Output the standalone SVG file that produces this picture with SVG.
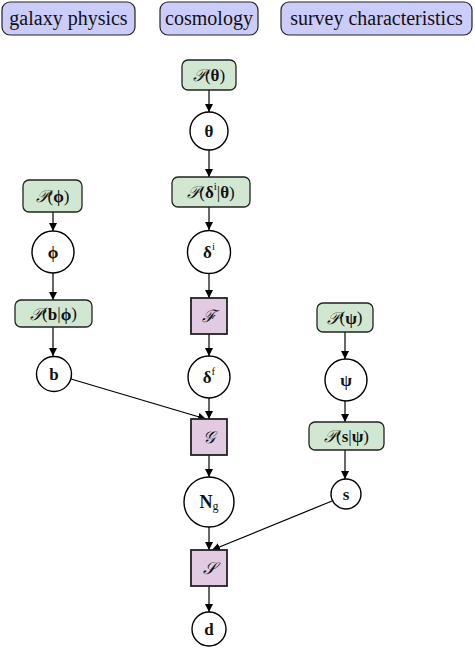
<svg xmlns="http://www.w3.org/2000/svg" width="475" height="648" viewBox="0 0 475 648">
<defs>
<marker id="ah" viewBox="0 0 10 10" refX="10" refY="5" markerWidth="8" markerHeight="8" markerUnits="userSpaceOnUse" orient="auto">
<path d="M0,0 L10,5 L0,10 Z" fill="#000"/>
</marker>
<style>
.hdr{fill:#ccccfa;stroke:#222;stroke-width:1.2}
.pri{fill:#d2e7d2;stroke:#222;stroke-width:1.3}
.var{fill:#fff;stroke:#000;stroke-width:1.4}
.fn{fill:#e2cbe2;stroke:#222;stroke-width:1.8}
text{font-family:"Liberation Serif","DejaVu Serif",serif;fill:#111;text-anchor:middle;dominant-baseline:central}
.t{font-size:20px}
.m{font-size:17px}
.b{font-weight:bold}
.sc{font-family:"DejaVu Serif","Liberation Serif",serif;font-style:italic}
.e{stroke:#000;stroke-width:1.2;fill:none;marker-end:url(#ah)}
</style>
</defs>
<g id="hdr-galaxy"><rect class="hdr" x="2" y="2" width="133" height="33" rx="8"/><text class="t" x="68.5" y="18">galaxy physics</text></g>
<g id="hdr-cosmo"><rect class="hdr" x="160" y="2" width="98" height="33" rx="8"/><text class="t" x="209" y="18">cosmology</text></g>
<g id="hdr-survey"><rect class="hdr" x="281" y="2" width="191" height="33" rx="8"/><text class="t" x="376.5" y="18">survey characteristics</text></g>

<g id="connectors">
<line class="e" x1="209" y1="90" x2="209" y2="112"/>
<line class="e" x1="209" y1="150" x2="209" y2="177"/>
<line class="e" x1="209" y1="207" x2="209" y2="230"/>
<line class="e" x1="209" y1="273" x2="209" y2="298"/>
<line class="e" x1="209" y1="334" x2="209" y2="356"/>
<line class="e" x1="209" y1="398" x2="209" y2="419"/>
<line class="e" x1="209" y1="455" x2="209" y2="477"/>
<line class="e" x1="209" y1="527" x2="209" y2="550"/>
<line class="e" x1="209" y1="586" x2="209" y2="612"/>
<line class="e" x1="53" y1="212" x2="53" y2="231"/>
<line class="e" x1="53" y1="273" x2="53" y2="300"/>
<line class="e" x1="53" y1="327" x2="53" y2="356"/>
<line class="e" x1="345" y1="332" x2="345" y2="359"/>
<line class="e" x1="345" y1="401" x2="345" y2="422"/>
<line class="e" x1="345" y1="450" x2="345" y2="479"/>
<line class="e" x1="71" y1="379" x2="206" y2="419"/>
<line class="e" x1="332" y1="501" x2="212" y2="550"/>
</g>

<g id="p-theta"><rect class="pri" x="182" y="60" width="54" height="30" rx="6"/><text class="m" x="209" y="75"><tspan class="sc">𝒫</tspan>(<tspan class="b">θ</tspan>)</text></g>
<g id="theta"><circle class="var" cx="209" cy="131" r="19"/><text class="m b" x="209" y="131">θ</text></g>
<g id="p-delta-i"><rect class="pri" x="172" y="177" width="78" height="30" rx="6"/><text class="m" x="211" y="192"><tspan class="sc">𝒫</tspan>(<tspan class="b">δ</tspan><tspan font-size="11" dy="-6">i</tspan><tspan dy="6">|</tspan><tspan class="b">θ</tspan>)</text></g>
<g id="delta-i"><circle class="var" cx="209" cy="252" r="21.5"/><text class="m" x="209" y="252"><tspan class="b">δ</tspan><tspan font-size="11" dy="-6">i</tspan></text></g>
<g id="F"><rect class="fn" x="191" y="298" width="36" height="36"/><text class="m sc" x="209" y="316">ℱ</text></g>
<g id="delta-f"><circle class="var" cx="209" cy="377" r="21"/><text class="m" x="209" y="377"><tspan class="b">δ</tspan><tspan font-size="11" dy="-6">f</tspan></text></g>
<g id="G"><rect class="fn" x="191" y="419" width="36" height="36"/><text class="m sc" x="209" y="437">𝒢</text></g>
<g id="Ng"><circle class="var" cx="209" cy="502" r="25"/><text class="m" x="209" y="502"><tspan class="b" font-size="18">N</tspan><tspan font-size="12" dy="4">g</tspan></text></g>
<g id="S"><rect class="fn" x="191" y="550" width="36" height="36"/><text class="m sc" x="209" y="568">𝒮</text></g>
<g id="d"><circle class="var" cx="209" cy="629" r="17"/><text class="m b" x="209" y="629">d</text></g>

<g id="p-phi"><rect class="pri" x="23" y="180" width="59" height="32" rx="6"/><text class="m" x="52.5" y="196"><tspan class="sc">𝒫</tspan>(<tspan class="b">ϕ</tspan>)</text></g>
<g id="phi"><circle class="var" cx="53" cy="252" r="21"/><text class="m b" x="53" y="252">ϕ</text></g>
<g id="p-b-phi"><rect class="pri" x="15" y="300" width="77" height="27" rx="6"/><text class="m" x="53.5" y="313.5"><tspan class="sc">𝒫</tspan>(<tspan class="b">b</tspan>|<tspan class="b">ϕ</tspan>)</text></g>
<g id="b"><circle class="var" cx="54" cy="374" r="17.5"/><text class="m b" x="54" y="374">b</text></g>

<g id="p-psi"><rect class="pri" x="317" y="303" width="56" height="29" rx="6"/><text class="m" x="345" y="317.5"><tspan class="sc">𝒫</tspan>(<tspan class="b">ψ</tspan>)</text></g>
<g id="psi"><circle class="var" cx="346" cy="380" r="21"/><text class="m b" x="346" y="380">ψ</text></g>
<g id="p-s-psi"><rect class="pri" x="309" y="422" width="75" height="28" rx="6"/><text class="m" x="346.5" y="436"><tspan class="sc">𝒫</tspan>(<tspan class="b">s</tspan>|<tspan class="b">ψ</tspan>)</text></g>
<g id="s"><circle class="var" cx="346" cy="494" r="15"/><text class="m b" x="346" y="494">s</text></g>
</svg>
